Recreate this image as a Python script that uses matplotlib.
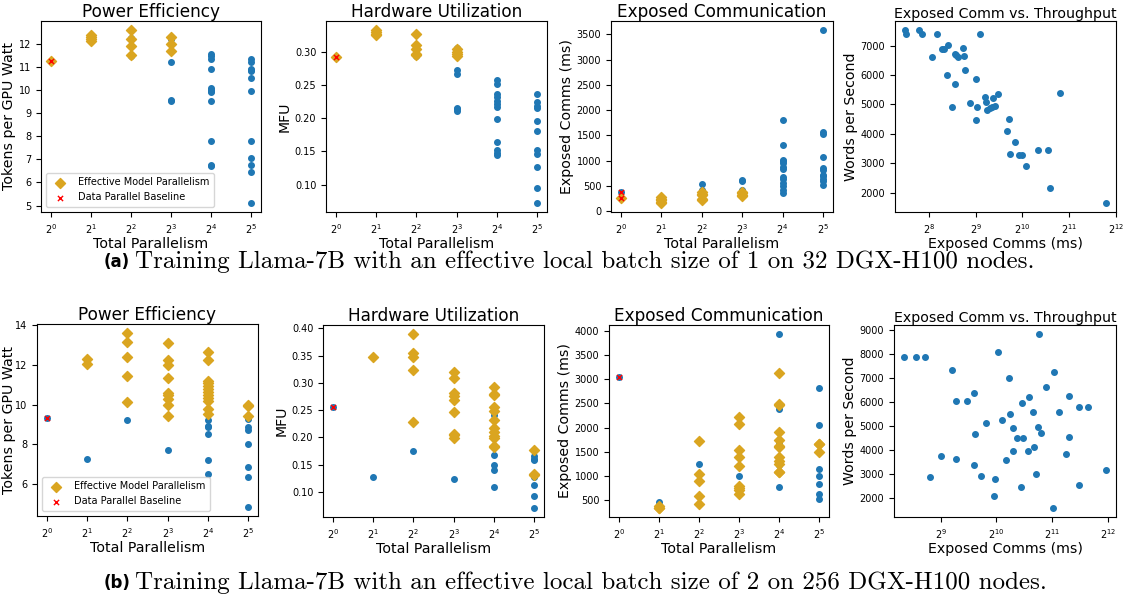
import numpy as np
import matplotlib
matplotlib.use("Agg")
import matplotlib.pyplot as plt

# total parallelism levels (x axis of the first three panels in each row)
par = [1, 2, 4, 8, 16, 32]

# ---- (a) batch size 1, 32 nodes ----
pe_a_all = [[11.25], [12.1, 12.2, 12.3, 12.35], [12.6, 12.25, 12.2, 11.9, 11.5, 11.45],
            [12.3, 12.2, 12.0, 11.7, 11.2, 9.55, 9.5],
            [11.55, 11.45, 11.35, 10.9, 10.1, 10.0, 9.95, 9.9, 9.5, 7.8, 6.75, 6.7],
            [11.35, 11.2, 10.9, 10.85, 10.8, 10.5, 9.95, 7.8, 7.05, 6.75, 6.45, 5.1]]
pe_a_emp = [[11.25], [12.1, 12.2, 12.3, 12.35], [12.6, 12.2, 11.9, 11.5], [12.3, 12.0, 11.7], [], []]
pe_a_base = [11.25]

mfu_a_all = [[0.292], [0.333, 0.330, 0.327, 0.325], [0.327, 0.310, 0.304, 0.297, 0.295, 0.293],
             [0.306, 0.304, 0.300, 0.296, 0.294, 0.272, 0.266, 0.216, 0.214, 0.211],
             [0.258, 0.252, 0.237, 0.232, 0.226, 0.221, 0.217, 0.199, 0.164, 0.152, 0.148, 0.145],
             [0.236, 0.224, 0.218, 0.216, 0.196, 0.180, 0.152, 0.146, 0.127, 0.095, 0.072]]
mfu_a_emp = [[0.292], [0.333, 0.330, 0.327, 0.325], [0.327, 0.310, 0.304, 0.297, 0.295],
             [0.304, 0.300, 0.296, 0.294], [], []]
mfu_a_base = [0.292]

ec_a_all = [[390, 265], [280, 250, 220, 180, 160], [540, 420, 380, 350, 320, 240, 220],
            [620, 600, 430, 410, 390, 360, 330, 300],
            [1810, 1310, 1020, 990, 950, 880, 840, 680, 640, 560, 500, 430, 370],
            [3590, 1560, 1520, 1080, 850, 820, 720, 700, 640, 600, 520]]
ec_a_emp = [[265], [280, 250, 220, 180, 160], [380, 350, 320, 240, 220], [390, 360, 330, 300], [], []]
ec_a_base = [390, 265]

comm_a = [180, 182, 221, 231, 288, 545, 342, 311, 323, 268, 375, 385, 394, 424, 431, 437,
          333, 379, 517, 359, 469, 526, 512, 593, 596, 667, 718, 609, 630, 651, 680, 843,
          815, 917, 855, 975, 1016, 1084, 1298, 1505, 1549, 1795, 3540]
wps_a = [7543, 7407, 7520, 7407, 7407, 7407, 7034, 6876, 6876, 6615, 6729, 6672, 6615, 6921,
         6650, 6163, 6016, 5710, 5857, 4907, 5054, 4919, 4455, 5247, 5077, 5224, 5360, 4805,
         4896, 4919, 4941, 4511, 4093, 3731, 3301, 3290, 3278, 2905, 3448, 3448, 2147, 5394, 1638]

# ---- (b) batch size 2, 256 nodes ----
pe_b_all = [[9.35], [12.3, 12.05, 7.25], [13.6, 13.15, 12.4, 11.45, 10.15, 9.2],
            [13.1, 12.25, 12.0, 11.35, 10.6, 10.5, 10.3, 10.0, 9.45, 7.7],
            [12.65, 12.25, 11.2, 11.1, 10.95, 10.8, 10.65, 10.5, 10.35, 10.2, 9.8, 9.55,
             9.2, 8.9, 8.85, 8.5, 7.2, 6.5],
            [10.0, 9.95, 9.45, 9.3, 8.85, 8.7, 8.0, 6.85, 6.35, 4.85]]
pe_b_emp = [[], [12.3, 12.05], [13.6, 13.15, 12.4, 11.45, 10.15],
            [13.1, 12.25, 12.0, 11.35, 10.6, 10.5, 10.3, 10.0, 9.45],
            [12.65, 12.25, 11.2, 11.1, 10.95, 10.8, 10.65, 10.5, 10.35, 10.2, 9.8, 9.55],
            [10.0, 9.95, 9.45]]
pe_b_base = [9.35]

mfu_b_all = [[0.256], [0.347, 0.128], [0.390, 0.355, 0.348, 0.324, 0.228, 0.175],
             [0.320, 0.308, 0.282, 0.275, 0.268, 0.246, 0.207, 0.204, 0.199, 0.124],
             [0.292, 0.280, 0.277, 0.256, 0.248, 0.241, 0.232, 0.217, 0.210, 0.203, 0.199,
              0.184, 0.182, 0.168, 0.149, 0.140, 0.109],
             [0.176, 0.165, 0.161, 0.158, 0.132, 0.131, 0.128, 0.112, 0.092, 0.070]]
mfu_b_emp = [[], [0.347], [0.390, 0.355, 0.348, 0.324, 0.228],
             [0.320, 0.308, 0.282, 0.275, 0.268, 0.246, 0.207, 0.204, 0.199],
             [0.292, 0.280, 0.277, 0.256, 0.248, 0.232, 0.217, 0.210, 0.203, 0.199, 0.184, 0.182],
             [0.176, 0.132, 0.131]]
mfu_b_base = [0.256]

ec_b_all = [[3040], [450, 380, 340, 330], [1730, 1240, 1040, 890, 590, 420],
            [2210, 2070, 1530, 1390, 1200, 1000, 790, 750, 700, 630],
            [3940, 3130, 2490, 2460, 2380, 1900, 1750, 1700, 1620, 1600, 1400, 1300, 1250,
             1220, 1090, 1070, 780],
            [2810, 2050, 1660, 1650, 1490, 1140, 990, 840, 620, 520]]
ec_b_emp = [[], [380, 340, 330], [1730, 1040, 890, 590, 420],
            [2210, 2070, 1530, 1390, 1200, 790, 750, 700, 630],
            [3130, 2490, 2460, 1900, 1750, 1620, 1600, 1400, 1300, 1250, 1090, 1070],
            [1660, 1650, 1490]]
ec_b_base = [3040]

comm_b = [325, 378, 424, 591, 621, 714, 773, 1041, 1201, 1404, 1546, 1740, 2091, 1910, 2535,
          2228, 1616, 2855, 3210, 897, 787, 1092, 1217, 1252, 1322, 1421, 1722, 1782, 2520,
          1260, 1517, 1643, 2434, 516, 617, 1152, 780, 449, 843, 1686, 1003, 4000, 1000, 1391,
          2876, 2075]
wps_b = [7859, 7873, 7873, 7330, 6050, 6050, 6384, 8054, 6996, 5939, 6189, 8833, 7260, 6606,
         6259, 5577, 5577, 5800, 5800, 5145, 4686, 5243, 5479, 4909, 4519, 4519, 4964, 4728,
         4547, 3963, 3963, 4130, 3823, 3740, 3615, 3601, 3378, 2891, 2933, 2990, 2808, 3169,
         2084, 2459, 2529, 1583]

BLUE = "#1f77b4"
GOLD = "#DAA520"
W, H = 1123, 600
LABEL_FS = 10.2


def flat(groups):
    xs, ys = [], []
    for p, g in zip(par, groups):
        xs += [p] * len(g)
        ys += g
    return xs, ys


def ax_px(left, top, right, bottom):
    return fig.add_axes([left / W, 1 - bottom / H, (right - left) / W, (bottom - top) / H])


def par_panel(ax, all_vals, emp_vals, base_vals, title, ylabel, legend=False, ypad=2):
    x, y = flat(all_vals)
    ax.scatter(x, y, s=16, color=BLUE, zorder=2)
    x, y = flat(emp_vals)
    ax.scatter(x, y, s=26, marker="D", color=GOLD, zorder=3, label="Effective Model Parallelism")
    ax.scatter([1] * len(base_vals), base_vals, s=14, marker="x", color="red", linewidths=1,
               zorder=4, label="Data Parallel Baseline")
    ax.set_xscale("log", base=2)
    ax.set_xticks(par)
    ax.set_title(title, fontsize=12.2, pad=2)
    ax.set_ylabel(ylabel, fontsize=LABEL_FS, labelpad=ypad)
    ax.set_xlabel("Total Parallelism", fontsize=LABEL_FS, labelpad=1)
    ax.tick_params(labelsize=7)
    if legend:
        ax.legend(loc="lower left", fontsize=7, handletextpad=0.8, borderpad=0.5)


def comm_panel(ax, xs, ys):
    ax.scatter(xs, ys, s=16, color=BLUE)
    ax.set_xscale("log", base=2)
    ax.set_title("Exposed Comm vs. Throughput", fontsize=10.2, pad=2)
    ax.set_ylabel("Words per Second", fontsize=LABEL_FS, labelpad=2)
    ax.set_xlabel("Exposed Comms (ms)", fontsize=LABEL_FS, labelpad=1)
    ax.tick_params(labelsize=7)


fig = plt.figure(figsize=(W / 100, H / 100), dpi=100)

# row (a)
par_panel(ax_px(41, 21, 261, 212), pe_a_all, pe_a_emp, pe_a_base,
          "Power Efficiency", "Tokens per GPU Watt", legend=True)
par_panel(ax_px(326, 21, 547, 212), mfu_a_all, mfu_a_emp, mfu_a_base,
          "Hardware Utilization", "MFU")
par_panel(ax_px(611, 21, 833, 212), ec_a_all, ec_a_emp, ec_a_base,
          "Exposed Communication", "Exposed Comms (ms)")
comm_panel(ax_px(895, 21, 1116, 212), comm_a, wps_a)

# row (b)
par_panel(ax_px(37, 324, 258, 516), pe_b_all, pe_b_emp, pe_b_base,
          "Power Efficiency", "Tokens per GPU Watt", legend=True, ypad=-1)
par_panel(ax_px(323, 325, 544, 517), mfu_b_all, mfu_b_emp, mfu_b_base,
          "Hardware Utilization", "MFU")
par_panel(ax_px(609, 325, 829, 517), ec_b_all, ec_b_emp, ec_b_base,
          "Exposed Communication", "Exposed Comms (ms)")
comm_panel(ax_px(894, 325, 1116, 517), comm_b, wps_b)

# captions
for y, tag, txt in [(262, "(a)", "Training Llama-7B with an effective local batch size of 1 on 32 DGX-H100 nodes."),
                    (583, "(b)", "Training Llama-7B with an effective local batch size of 2 on 256 DGX-H100 nodes.")]:
    fig.text(104 / W, 1 - y / H, tag, fontsize=12, fontweight="bold", family="DejaVu Sans",
             ha="left", va="center")
    fig.text(135 / W, 1 - y / H, txt, fontsize=18, family="cmr10", ha="left", va="center")

fig.savefig("out.png", dpi=100)
